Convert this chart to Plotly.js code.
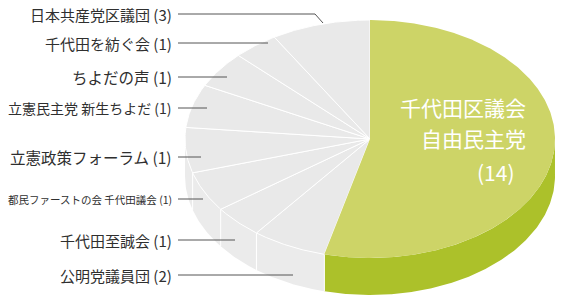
<!DOCTYPE html>
<html>
<head>
<meta charset="utf-8">
<script src="https://cdn.plot.ly/plotly-3.0.1.min.js"></script>
<style>html,body{margin:0;padding:0;background:#fff;}#chart{width:565px;height:299px;}</style>
</head>
<body>
<div id="chart"></div>
<script>
// ---- data (clockwise from 12 o'clock) ----
const parties = ['千代田区議会自由民主党','公明党議員団','千代田至誠会','都民ファーストの会 千代田議会','立憲政策フォーラム','立憲民主党 新生ちよだ','ちよだの声','千代田を紡ぐ会','日本共産党区議団'];
const seats = [14, 2, 1, 1, 1, 1, 1, 1, 3];
const mainLabelLines = ['千代田区議会', '自由民主党'];

// ---- styling / geometry (not data) ----
const CX = 370, CY = 139, RX = 185, RY = 119, DEPTH = 37;
const topColors = ['#cdd467', '#e9e9e9', '#e9e9e9', '#e9e9e9', '#e9e9e9', '#e9e9e9', '#e9e9e9', '#e9e9e9', '#e9e9e9'];
const sideColors = ['#acc12a', '#ebebeb', '#ebebeb', '#ebebeb', '#ebebeb', '#ebebeb', '#ebebeb', '#ebebeb', '#ebebeb'];
// label layout for the grey parties (index into parties), text y, line end x, font size
const labelLayout = [
  {i: 8, y: 14, x1: 315, fs: 15, bend: [323, 23]},
  {i: 7, y: 43, x1: 268, fs: 15},
  {i: 6, y: 77, x1: 227, fs: 15.5},
  {i: 5, y: 108, x1: 207, fs: 14},
  {i: 4, y: 157, x1: 201, fs: 15.5},
  {i: 3, y: 199, x1: 203, fs: 10.5},
  {i: 2, y: 240, x1: 235, fs: 15},
  {i: 1, y: 275, x1: 293, fs: 15}
];

const total = seats.reduce((a, b) => a + b, 0);
function pt(deg, dy) {
  const a = deg * Math.PI / 180, s = Math.sin(a), c = Math.cos(a);
  const r = 1 / Math.sqrt((s / RX) ** 2 + (c / RY) ** 2);
  return [CX + r * s, CY - r * c + (dy || 0)];
}
function arc(a0, a1, dy) {
  const pts = [];
  const n = Math.max(2, Math.ceil(Math.abs(a1 - a0) / 0.5));
  for (let k = 0; k <= n; k++) pts.push(pt(a0 + (a1 - a0) * k / n, dy));
  return pts;
}

const bounds = [0];
seats.forEach(v => bounds.push(bounds[bounds.length - 1] + v / total * 360));

const traces = [];
// sides
seats.forEach((v, i) => {
  const b0 = Math.max(bounds[i], 90), b1 = Math.min(bounds[i + 1], 270);
  if (b1 <= b0) return;
  const top = arc(b0, b1, 0), bot = arc(b1, b0, DEPTH);
  const poly = top.concat(bot);
  poly.push(top[0]);
  traces.push({type: 'scatter', mode: 'lines', x: poly.map(p => p[0]), y: poly.map(p => p[1]),
    fill: 'toself', fillcolor: sideColors[i], line: {width: 0, color: sideColors[i]}, hoverinfo: 'skip'});
});
// vertical white lines on side at boundaries
bounds.forEach(b => {
  if (b > 90 && b < 270) {
    const p = pt(b, 0);
    traces.push({type: 'scatter', mode: 'lines', x: [p[0], p[0]], y: [p[1], p[1] + DEPTH],
      line: {color: '#ffffff', width: 1}, hoverinfo: 'skip'});
  }
});
// top faces: grey first, green last
const order = seats.map((_, i) => i).slice(1).concat([0]);
order.forEach(i => {
  const a = arc(bounds[i], bounds[i + 1], 0);
  const poly = [[CX, CY]].concat(a, [[CX, CY]]);
  traces.push({type: 'scatter', mode: 'lines', x: poly.map(p => p[0]), y: poly.map(p => p[1]),
    fill: 'toself', fillcolor: topColors[i],
    line: {width: i === 0 ? 0 : 1, color: '#ffffff'}, hoverinfo: 'skip'});
});

const shapes = [];
const annotations = [];
labelLayout.forEach(L => {
  const txt = parties[L.i] + ' (' + seats[L.i] + ')';
  annotations.push({x: 174, y: L.y, xref: 'x', yref: 'y', xanchor: 'right', yanchor: 'middle',
    text: txt, showarrow: false,
    font: {family: 'Noto Sans CJK JP, sans-serif', size: L.fs, color: '#2f2f2f'}});
  shapes.push({type: 'line', xref: 'x', yref: 'y', x0: 178, x1: L.x1, y0: L.y, y1: L.y,
    line: {color: '#555555', width: 1}});
  if (L.bend) shapes.push({type: 'line', xref: 'x', yref: 'y', x0: L.x1, x1: L.bend[0], y0: L.y, y1: L.bend[1],
    line: {color: '#555555', width: 1}});
});
annotations.push({x: 528, y: 107, xref: 'x', yref: 'y', xanchor: 'right', yanchor: 'middle',
  text: mainLabelLines[0], showarrow: false, font: {family: 'Noto Sans CJK JP, sans-serif', size: 21, color: '#ffffff'}});
annotations.push({x: 528, y: 138, xref: 'x', yref: 'y', xanchor: 'right', yanchor: 'middle',
  text: mainLabelLines[1], showarrow: false, font: {family: 'Noto Sans CJK JP, sans-serif', size: 21, color: '#ffffff'}});
annotations.push({x: 496, y: 172, xref: 'x', yref: 'y', xanchor: 'center', yanchor: 'middle',
  text: '(' + seats[0] + ')', showarrow: false, font: {family: 'Noto Sans CJK JP, sans-serif', size: 21, color: '#ffffff'}});

const layout = {
  width: 565, height: 299, margin: {l: 0, r: 0, t: 0, b: 0},
  paper_bgcolor: '#ffffff', plot_bgcolor: '#ffffff', showlegend: false,
  xaxis: {range: [0, 565], visible: false, fixedrange: true},
  yaxis: {range: [299, 0], visible: false, fixedrange: true},
  shapes: shapes, annotations: annotations
};
Plotly.newPlot('chart', traces, layout, {staticPlot: true});
</script>
</body>
</html>
